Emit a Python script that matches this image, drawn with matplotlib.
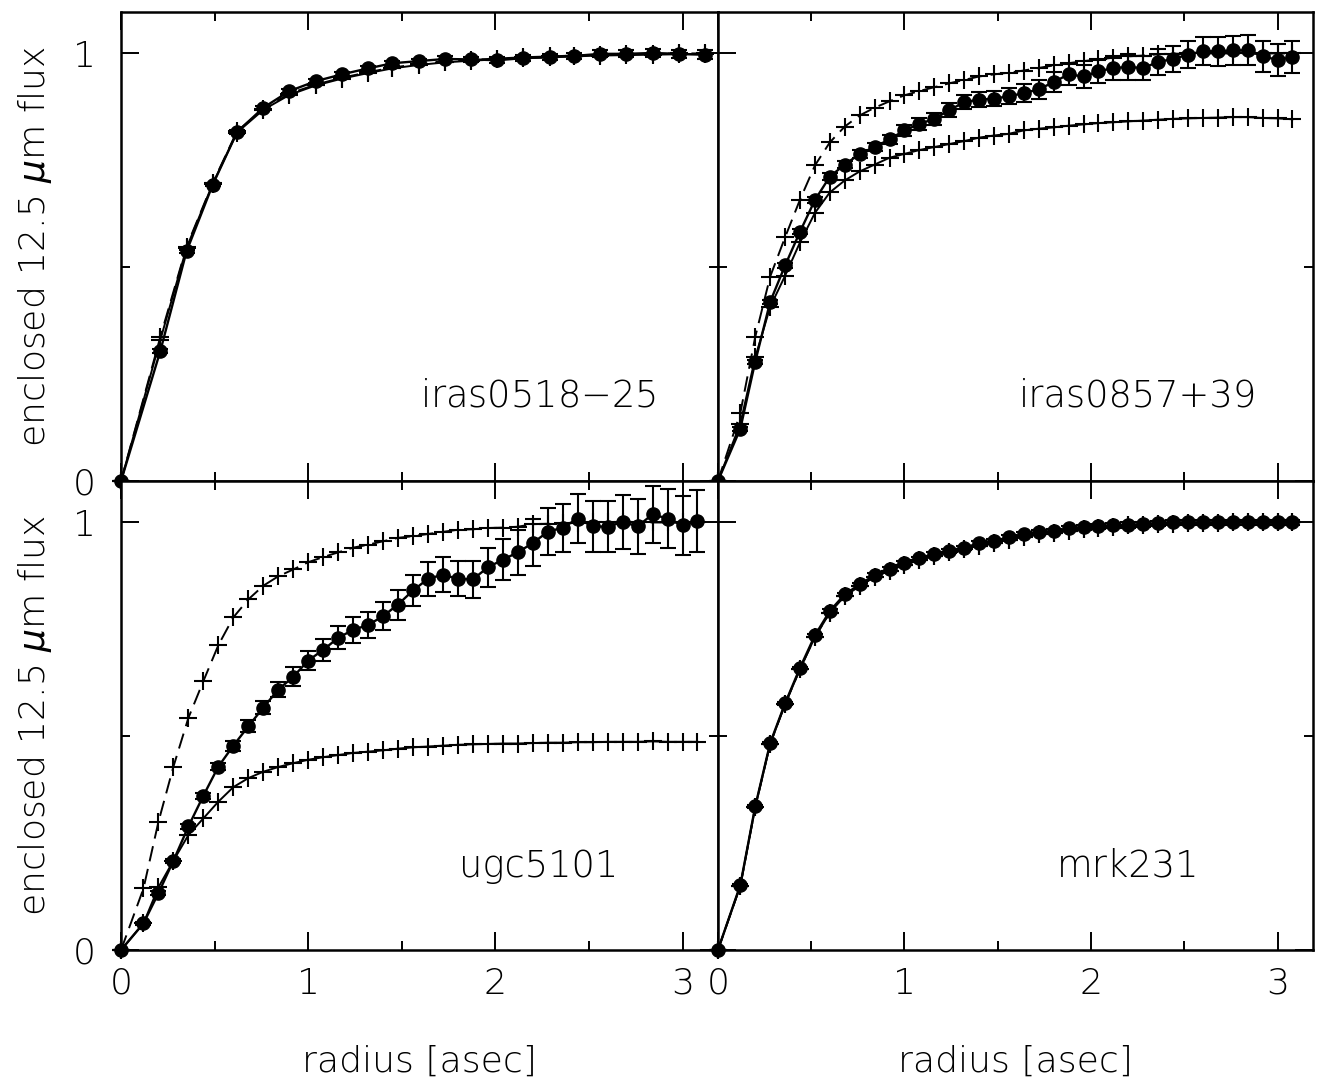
import numpy as np
import matplotlib
matplotlib.use("Agg")
import matplotlib.pyplot as plt
from matplotlib.ticker import MultipleLocator

plt.rcParams['font.family'] = ['DejaVu Sans']
plt.rcParams['font.weight'] = 'light'
plt.rcParams['axes.labelweight'] = 'light'
plt.rcParams['font.size'] = 26
plt.rcParams['mathtext.fontset'] = 'custom'
plt.rcParams['mathtext.it'] = 'DejaVu Sans:italic'
plt.rcParams['mathtext.rm'] = 'DejaVu Sans:light'

# radii [asec]
r_0518 = [0, 0.21, 0.35, 0.49, 0.62, 0.76, 0.90, 1.04, 1.18, 1.32, 1.45, 1.59,
          1.73, 1.87, 2.01, 2.15, 2.29, 2.42, 2.56, 2.70, 2.84, 2.98, 3.12]
r_p08 = [0, 0.12, 0.20, 0.28, 0.36, 0.44, 0.52, 0.60, 0.68, 0.76, 0.84, 0.92,
         1.00, 1.08, 1.16, 1.24, 1.32, 1.40, 1.48, 1.56, 1.64, 1.72, 1.80,
         1.88, 1.96, 2.04, 2.12, 2.20, 2.28, 2.36, 2.44, 2.52, 2.60, 2.68,
         2.76, 2.84, 2.92, 3.00, 3.08]

# iras0518-25
f_0518 = [0, 0.304, 0.537, 0.693, 0.816, 0.873, 0.912, 0.935, 0.951, 0.965,
          0.977, 0.982, 0.987, 0.986, 0.984, 0.989, 0.991, 0.994, 0.999,
          0.999, 1.001, 0.999, 0.997]
e_0518 = [0, 0.004, 0.004, 0.004, 0.004, 0.004, 0.005, 0.005, 0.005, 0.005,
          0.006, 0.006, 0.006, 0.006, 0.007, 0.007, 0.007, 0.008, 0.008,
          0.008, 0.009, 0.009, 0.010]
hi_0518 = [0, 0.337, 0.548, 0.697, 0.818, 0.870, 0.906, 0.927, 0.943, 0.956,
           0.967, 0.975, 0.981, 0.985, 0.988, 0.991, 0.993, 0.995, 0.997,
           0.998, 0.999, 1.0, 1.0]
lo_0518 = [0, 0.330, 0.545, 0.695, 0.815, 0.868, 0.903, 0.925, 0.941, 0.954,
           0.965, 0.973, 0.979, 0.983, 0.986, 0.989, 0.991, 0.993, 0.995,
           0.996, 0.997, 0.998, 0.998]

# iras0857+39
f_0857 = [0, 0.122, 0.279, 0.419, 0.504, 0.583, 0.657, 0.712, 0.740, 0.765,
          0.781, 0.799, 0.820, 0.835, 0.847, 0.867, 0.886, 0.892, 0.894,
          0.900, 0.907, 0.916, 0.933, 0.951, 0.946, 0.958, 0.966, 0.968,
          0.966, 0.980, 0.987, 0.997, 1.005, 1.005, 1.007, 1.007, 0.993,
          0.985, 0.991]
e_0857 = [0, 0.004, 0.005, 0.005, 0.006, 0.006, 0.007, 0.008, 0.008, 0.009,
          0.009, 0.010, 0.012, 0.013, 0.014, 0.016, 0.016, 0.017, 0.017,
          0.019, 0.021, 0.022, 0.023, 0.025, 0.027, 0.027, 0.028, 0.031,
          0.029, 0.030, 0.030, 0.031, 0.033, 0.034, 0.034, 0.035, 0.037,
          0.037, 0.037]
hi_0857 = [0, 0.159, 0.337, 0.478, 0.570, 0.658, 0.738, 0.792, 0.829, 0.855,
           0.873, 0.888, 0.902, 0.912, 0.921, 0.930, 0.938, 0.946, 0.951,
           0.955, 0.960, 0.966, 0.972, 0.977, 0.982, 0.986, 0.990, 0.993,
           0.995, 0.998, 0.999, 1.0, 1.0, 1.0, 1.0, 1.0, 1.0, 1.0, 1.0]
lo_0857 = [0, 0.134, 0.289, 0.407, 0.480, 0.558, 0.627, 0.675, 0.703, 0.724,
           0.740, 0.756, 0.765, 0.774, 0.781, 0.788, 0.795, 0.803, 0.808,
           0.812, 0.820, 0.824, 0.827, 0.831, 0.834, 0.837, 0.839, 0.841,
           0.843, 0.845, 0.847, 0.848, 0.849, 0.850, 0.851, 0.851, 0.849,
           0.848, 0.846]

# ugc5101
f_5101 = [0, 0.0625, 0.133, 0.209, 0.289, 0.361, 0.429, 0.478, 0.523, 0.567,
          0.609, 0.639, 0.677, 0.702, 0.730, 0.749, 0.760, 0.781, 0.808,
          0.841, 0.868, 0.878, 0.868, 0.867, 0.895, 0.913, 0.930, 0.952,
          0.978, 0.988, 1.009, 0.991, 0.990, 1.001, 0.991, 1.019, 1.009,
          0.993, 1.003]
e_5101 = [0, 0.003, 0.004, 0.005, 0.006, 0.007, 0.008, 0.012, 0.014, 0.016,
          0.017, 0.022, 0.023, 0.025, 0.027, 0.030, 0.031, 0.033, 0.035,
          0.037, 0.039, 0.041, 0.041, 0.044, 0.045, 0.048, 0.052, 0.055,
          0.055, 0.056, 0.057, 0.059, 0.060, 0.063, 0.064, 0.066, 0.069,
          0.070, 0.073]
hi_5101 = [0, 0.144, 0.300, 0.429, 0.543, 0.629, 0.713, 0.778, 0.820, 0.852,
           0.874, 0.890, 0.907, 0.919, 0.930, 0.941, 0.948, 0.956, 0.964,
           0.968, 0.973, 0.978, 0.983, 0.984, 0.987, 0.988, 0.990, 0.996,
           0.997, 0.998, 0.999, 1.0, 1.0, 1.0, 1.0, 1.0, 1.0, 1.0, 1.0]
lo_5101 = [0, 0.0625, 0.147, 0.209, 0.269, 0.308, 0.347, 0.381, 0.402, 0.417,
           0.428, 0.437, 0.445, 0.451, 0.456, 0.461, 0.464, 0.467, 0.471,
           0.474, 0.476, 0.478, 0.480, 0.481, 0.482, 0.483, 0.483, 0.484,
           0.485, 0.485, 0.486, 0.486, 0.487, 0.487, 0.487, 0.488, 0.487,
           0.487, 0.487]

# mrk231
f_231 = [0, 0.152, 0.336, 0.484, 0.577, 0.660, 0.736, 0.793, 0.832, 0.855,
         0.877, 0.891, 0.905, 0.916, 0.926, 0.933, 0.941, 0.951, 0.957,
         0.965, 0.973, 0.977, 0.980, 0.986, 0.989, 0.991, 0.993, 0.994,
         0.996, 0.998, 1.0, 1.0, 1.0, 1.0, 1.0, 1.0, 1.0, 1.0, 1.0]
e_231 = [0, 0.003, 0.003, 0.003, 0.003, 0.003, 0.003, 0.004, 0.004, 0.004,
         0.004, 0.004, 0.004, 0.004, 0.005, 0.005, 0.005, 0.005, 0.005,
         0.005, 0.005, 0.005, 0.005, 0.005, 0.006, 0.006, 0.006, 0.006,
         0.006, 0.006, 0.006, 0.006, 0.006, 0.006, 0.006, 0.006, 0.006,
         0.006, 0.006]
psf_231 = [0, 0.150, 0.334, 0.482, 0.575, 0.657, 0.732, 0.789, 0.828, 0.851,
           0.873, 0.887, 0.901, 0.912, 0.922, 0.930, 0.938, 0.946, 0.952,
           0.960, 0.967, 0.972, 0.976, 0.981, 0.985, 0.988, 0.990, 0.993,
           0.995, 0.996, 0.997, 0.998, 0.999, 0.999, 1.0, 1.0, 1.0, 1.0, 1.0]

names = ["iras0518$-$25", "iras0857+39", "ugc5101", "mrk231"]
radii = [r_0518, r_p08, r_p08, r_p08]
fluxes = [f_0518, f_0857, f_5101, f_231]
errors = [e_0518, e_0857, e_5101, e_231]
upper = [hi_0518, hi_0857, hi_5101, psf_231]
lower = [lo_0518, lo_0857, lo_5101, psf_231]

# axes boxes in figure fraction (left, bottom, width, height)
boxes = [[0.0910, 0.5567, 0.4489, 0.4323],
         [0.5398, 0.5567, 0.4474, 0.4323],
         [0.0910, 0.1244, 0.4489, 0.4323],
         [0.5398, 0.1244, 0.4474, 0.4323]]
text_pos = [(2.23, 0.20), (2.25, 0.20), (2.23, 0.197), (2.20, 0.197)]

fig = plt.figure(figsize=(13.3, 10.85), dpi=100)

for i in range(4):
    ax = fig.add_axes(boxes[i])
    r = radii[i]
    # scaled PSF curves
    ax.plot(r, upper[i], color='black', lw=1.4, ls=(0, (8, 4)), marker='+',
            ms=12.5, mew=1.5, clip_on=False, zorder=2)
    ax.plot(r, lower[i], color='black', lw=1.4, ls='-', marker='+',
            ms=12.5, mew=1.5, clip_on=False, zorder=2)
    # measured profile
    ax.errorbar(r, fluxes[i], yerr=errors[i], color='black', lw=1.7,
                marker='o', ms=9.5, elinewidth=1.5, capsize=6, capthick=1.5,
                clip_on=False, zorder=3)

    ax.set_xlim(0, 3.19)
    ax.set_ylim(0, 1.097)
    ax.xaxis.set_major_locator(MultipleLocator(1))
    ax.xaxis.set_minor_locator(MultipleLocator(0.5))
    ax.set_yticks([0, 1])
    ax.yaxis.set_minor_locator(MultipleLocator(0.5))
    ax.tick_params(which='both', direction='in', top=True, right=True,
                   width=1.4, labelsize=26)
    ax.tick_params(which='major', length=13)
    ax.tick_params(which='minor', length=6.5)
    ax.tick_params(axis='x', pad=12)
    ax.tick_params(axis='y', pad=18)
    for sp in ax.spines.values():
        sp.set_linewidth(1.8)

    if i < 2:
        ax.tick_params(labelbottom=False)
    else:
        ax.set_xlabel("radius [asec]", labelpad=32)
    if i % 2 == 1:
        ax.tick_params(labelleft=False)
    else:
        ax.set_ylabel("enclosed 12.5 $\\mu$m flux", labelpad=14)

    ax.text(text_pos[i][0], text_pos[i][1], names[i], ha='center',
            va='center', fontsize=26.5)

fig.savefig("out.png", dpi=100)
